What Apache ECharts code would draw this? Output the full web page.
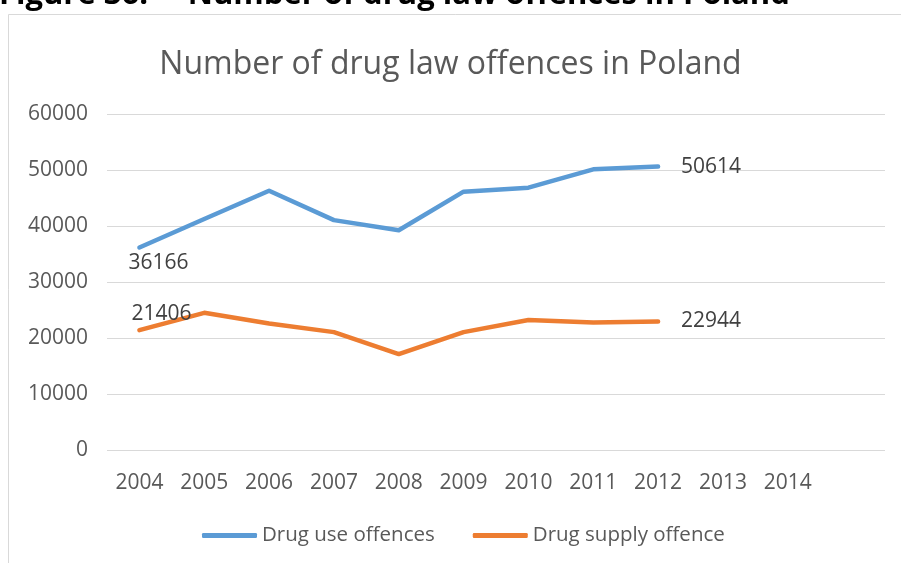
<!DOCTYPE html>
<html>
<head>
<meta charset="utf-8">
<script src="https://cdn.jsdelivr.net/npm/echarts@6/dist/echarts.min.js"></script>
<style>html,body{margin:0;padding:0;background:#fff;}#c{width:901px;height:563px;}</style>
</head>
<body>
<div id="c"></div>
<script>
var categories = ['2004','2005','2006','2007','2008','2009','2010','2011','2012','2013','2014',''];
var drugUse = [36166, 41250, 46300, 41050, 39250, 46130, 46840, 50120, 50614];
var drugSupply = [21406, 24500, 22600, 21050, 17140, 21050, 23210, 22780, 22944];
var yTicks = [0, 10000, 20000, 30000, 40000, 50000, 60000];

var FONT = 'Open Sans';
var GREY = '#595959';

function withLabels(values, firstPos, firstOffset, firstDist) {
  return values.map(function (v, i) {
    if (i === 0) {
      return { value: v, label: { show: true, position: firstPos, offset: firstOffset, distance: firstDist } };
    }
    if (i === values.length - 1) {
      return { value: v, label: { show: true, position: 'right', distance: 22 } };
    }
    return v;
  });
}

var chart = echarts.init(document.getElementById('c'), null, { renderer: 'canvas' });
chart.setOption({
  backgroundColor: '#fff',
  animation: false,
  graphic: [
    { type: 'rect', shape: { x: 8.5, y: 14.5, width: 1000, height: 1000 }, style: { fill: 'none', stroke: '#d9d9d9', lineWidth: 1 }, silent: true, z: -10 },
    { type: 'text', x: -1, y: -20, style: { text: 'Figure 36:  \u2013 Number of drug law offences in Poland', font: 'bold 31px "Open Sans"', fill: '#000', verticalAlign: 'top' }, silent: true }
  ],
  title: {
    text: 'Number of drug law offences in Poland',
    left: 'center',
    top: 44,
    textStyle: { fontFamily: FONT, fontSize: 32, fontWeight: 'normal', color: GREY }
  },
  legend: {
    bottom: 12,
    left: 197,
    itemWidth: 55,
    itemHeight: 5,
    itemGap: 38,
    icon: 'roundRect',
    textStyle: { fontFamily: FONT, fontSize: 20.5, color: GREY, padding: [0, 0, 0, 0] },
    data: ['Drug use offences', 'Drug supply offence']
  },
  grid: { left: 107, right: 16, top: 114, bottom: 113, containLabel: false },
  xAxis: {
    type: 'category',
    data: categories,
    boundaryGap: true,
    axisLine: { show: false },
    axisTick: { show: false },
    axisLabel: { fontFamily: FONT, fontSize: 21, color: GREY, margin: 23 }
  },
  yAxis: {
    type: 'value',
    min: yTicks[0],
    max: yTicks[yTicks.length - 1],
    interval: 10000,
    axisLine: { show: false },
    axisTick: { show: false },
    axisLabel: { fontFamily: FONT, fontSize: 21, color: GREY, margin: 19, formatter: function (v) { return String(v); } },
    splitLine: { lineStyle: { color: '#d9d9d9', width: 1 } }
  },
  series: [
    {
      name: 'Drug use offences',
      type: 'line',
      data: withLabels(drugUse, 'bottom', [19, 0], 4),
      showSymbol: true,
      symbol: 'circle',
      symbolSize: 2,
      lineStyle: { color: '#5b9bd5', width: 4.5, cap: 'round', join: 'round' },
      itemStyle: { color: '#5b9bd5' },
      label: { fontFamily: FONT, fontSize: 21, color: '#404040' }
    },
    {
      name: 'Drug supply offence',
      type: 'line',
      data: withLabels(drugSupply, 'top', [22, 0], 5),
      showSymbol: true,
      symbol: 'circle',
      symbolSize: 2,
      lineStyle: { color: '#ed7d31', width: 4.5, cap: 'round', join: 'round' },
      itemStyle: { color: '#ed7d31' },
      label: { fontFamily: FONT, fontSize: 21, color: '#404040' }
    }
  ]
});
</script>
</body>
</html>
